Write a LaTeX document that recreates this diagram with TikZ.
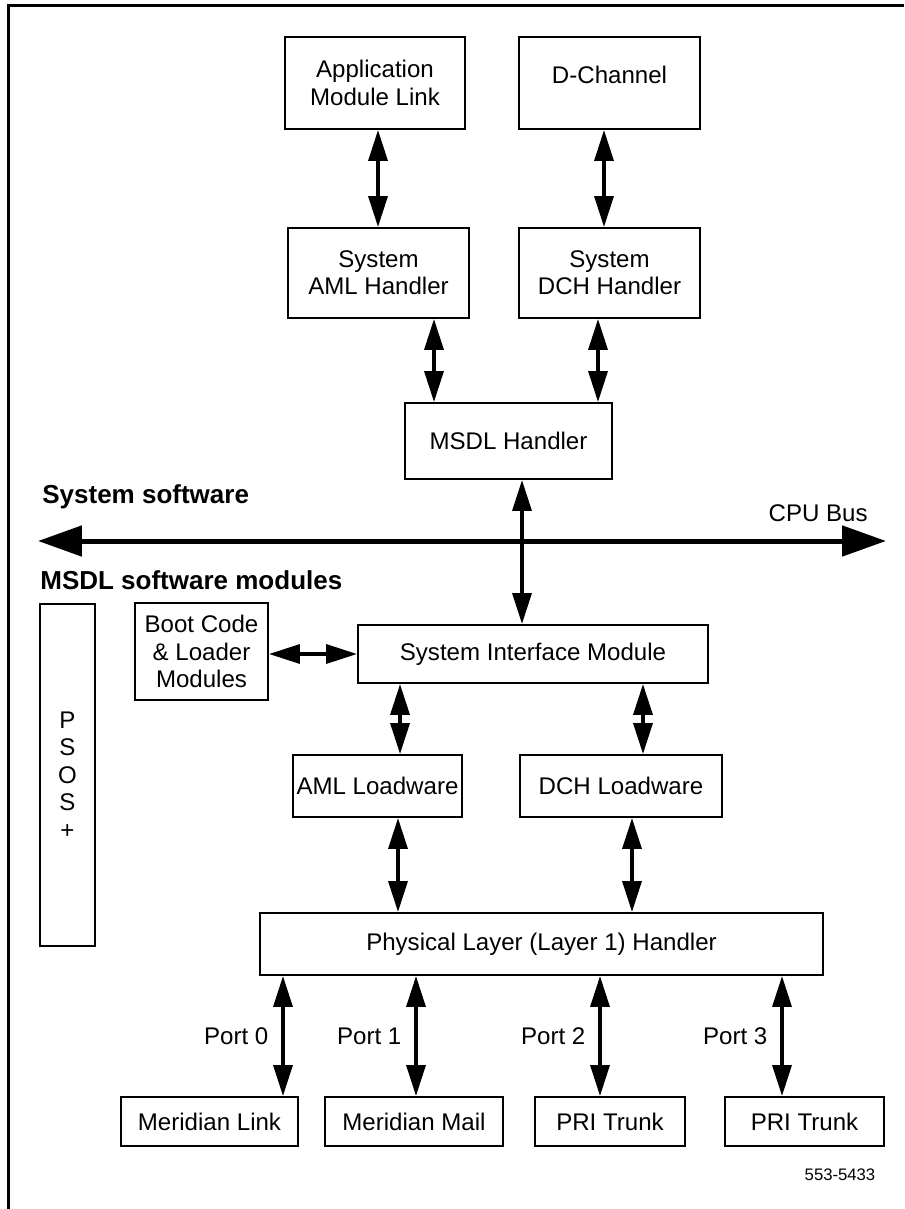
\documentclass[tikz,border=0pt]{standalone}
\usepackage{fontspec}
\setmainfont{Liberation Sans}
\usetikzlibrary{arrows.meta,positioning}

\begin{document}
\begin{tikzpicture}[x=0.02cm, y=-0.02cm,
  box/.style={draw, rectangle, line width=0.04cm, inner sep=2pt, align=center, font=\fontsize{13.7}{15.6}\selectfont},
  link/.style={{Triangle[length=0.62cm,width=0.38cm]}-{Triangle[length=0.62cm,width=0.38cm]}, line width=0.07cm},
  bus/.style={{Triangle[length=0.88cm,width=0.6cm]}-{Triangle[length=0.88cm,width=0.6cm]}, line width=0.1cm},
  port/.style={font=\fontsize{13.7}{15.6}\selectfont},
  heading/.style={anchor=west, inner sep=0pt, font=\fontsize{14.8}{17}\selectfont\bfseries}
]
  \useasboundingbox (0,0) rectangle (904,1209);

  % frame
  \draw[line width=0.07cm] (8.5,1209) -- (8.5,5.5) -- (904,5.5);

  % system side
  \node[box, minimum width=3.6cm, minimum height=1.84cm] (aml) at (375,83) {Application\\Module Link};
  \node[box, minimum width=3.62cm, minimum height=1.84cm, text depth=0.32cm] (dch) at (609.5,83) {D-Channel};
  \node[box, minimum width=3.62cm, minimum height=1.8cm] (amlh) at (378.5,273) {System\\AML Handler};
  \node[box, minimum width=3.62cm, minimum height=1.8cm] (dchh) at (609.5,273) {System\\DCH Handler};
  \node[box, minimum width=4.14cm, minimum height=1.52cm] (msdlh) at (508.5,441) {MSDL Handler};

  % CPU bus
  \node[heading] (syssw) at (42,497) {System software};
  \coordinate (busw) at (38,541);
  \coordinate (buse) at (886,541);
  \node[heading] (msdlsw) at (40,580) {MSDL software modules};

  % MSDL modules
  \node[box, minimum width=1.1cm, minimum height=6.84cm] (psos) at (67.5,775) {P\\S\\O\\S\\+};
  \node[box, minimum width=2.66cm, minimum height=1.94cm] (boot) at (201.5,651.5) {Boot Code\\\& Loader\\Modules};
  \node[box, minimum width=7cm, minimum height=1.16cm] (sim) at (533,654) {System Interface Module};
  \node[box, minimum width=3.36cm, minimum height=1.24cm] (amllw) at (377.5,786) {AML Loadware};
  \node[box, minimum width=4.04cm, minimum height=1.24cm] (dchlw) at (621,786) {DCH Loadware};
  \node[box, minimum width=11.26cm, minimum height=1.24cm] (phy) at (541.5,944) {Physical Layer (Layer 1) Handler};

  % port devices
  \node[box, minimum width=3.54cm, minimum height=0.98cm] (mlink) at (209.5,1121.5) {Meridian Link};
  \node[box, minimum width=3.56cm, minimum height=0.98cm] (mmail) at (414,1121.5) {Meridian Mail};
  \node[box, minimum width=3.0cm, minimum height=0.98cm] (pri1) at (610,1121.5) {PRI Trunk};
  \node[box, minimum width=3.18cm, minimum height=0.98cm] (pri2) at (804.5,1121.5) {PRI Trunk};
  \node[font=\fontsize{9.5}{11}\selectfont] (fig) at (840,1175) {553-5433};

  \draw[link] ([xshift=0.06cm]aml.south) -- ([xshift=0.06cm]aml.south |- amlh.north);
  \draw[link] ([xshift=-0.11cm]dch.south) -- ([xshift=-0.11cm]dch.south |- dchh.north);
  \draw[link] ([xshift=1.11cm]amlh.south) -- ([xshift=1.11cm]amlh.south |- msdlh.north);
  \draw[link] ([xshift=-0.23cm]dchh.south) -- ([xshift=-0.23cm]dchh.south |- msdlh.north);
  \draw[bus] (busw) -- (buse) node[pos=0.92, above=6pt, port]{CPU Bus};
  \draw[link] ([xshift=0.27cm]msdlh.south) -- ([xshift=0.27cm]msdlh.south |- sim.north);
  \draw[link] (sim.west -| boot.east) -- (sim.west);
  \draw[link] ([xshift=-2.66cm]sim.south) -- ([xshift=-2.66cm]sim.south |- amllw.north);
  \draw[link] ([xshift=2.2cm]sim.south) -- ([xshift=2.2cm]sim.south |- dchlw.north);
  \draw[link] ([xshift=0.41cm]amllw.south) -- ([xshift=0.41cm]amllw.south |- phy.north);
  \draw[link] ([xshift=0.22cm]dchlw.south) -- ([xshift=0.22cm]dchlw.south |- phy.north);
  \draw[link] ([xshift=1.47cm]mlink.north) -- ([xshift=1.47cm]mlink.north |- phy.south) node[midway, left=4pt, port]{Port 0};
  \draw[link] ([xshift=0.04cm]mmail.north) -- ([xshift=0.04cm]mmail.north |- phy.south) node[midway, left=4pt, port]{Port 1};
  \draw[link] ([xshift=-0.2cm]pri1.north) -- ([xshift=-0.2cm]pri1.north |- phy.south) node[midway, left=4pt, port]{Port 2};
  \draw[link] ([xshift=-0.45cm]pri2.north) -- ([xshift=-0.45cm]pri2.north |- phy.south) node[midway, left=4pt, port]{Port 3};

\end{tikzpicture}
\end{document}
